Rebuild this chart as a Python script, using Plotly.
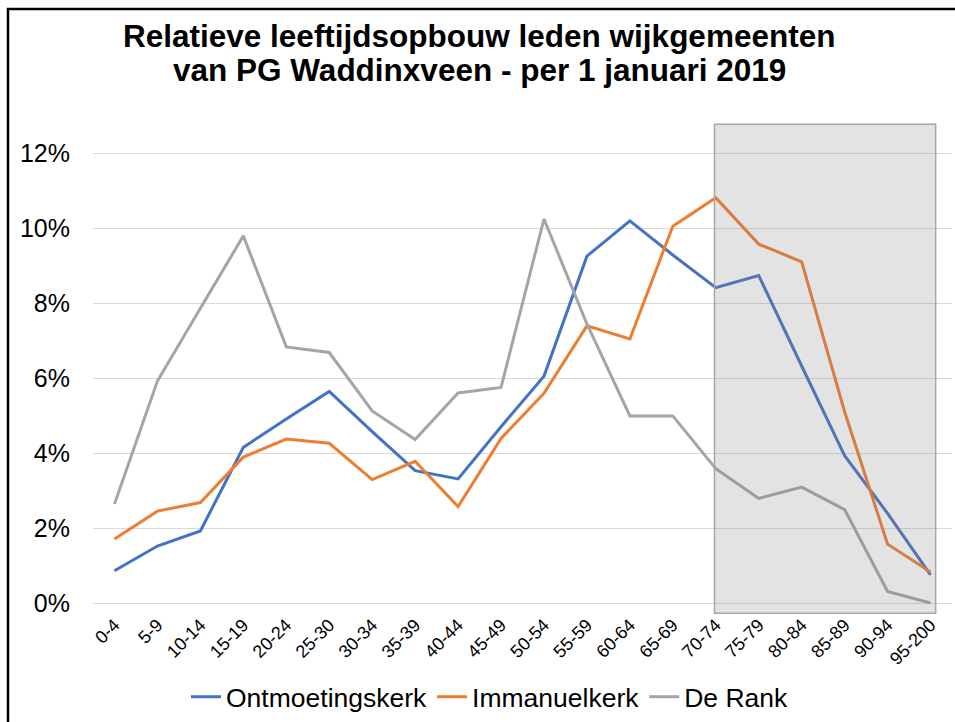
import plotly.graph_objects as go

categories = ["0-4", "5-9", "10-14", "15-19", "20-24", "25-30", "30-34", "35-39", "40-44",
              "45-49", "50-54", "55-59", "60-64", "65-69", "70-74", "75-79", "80-84",
              "85-89", "90-94", "95-200"]

ontmoetingskerk = [0.86, 1.52, 1.92, 4.15, 4.91, 5.64, 4.57, 3.53, 3.31, 4.70,
                   6.05, 9.25, 10.19, 9.28, 8.41, 8.73, 6.32, 3.93, 2.39, 0.75]
immanuelkerk = [1.71, 2.45, 2.68, 3.89, 4.37, 4.26, 3.29, 3.78, 2.57, 4.39,
                5.59, 7.39, 7.04, 10.05, 10.81, 9.57, 9.10, 5.10, 1.57, 0.83]
de_rank = [2.64, 5.92, 7.86, 9.79, 6.83, 6.68, 5.12, 4.36, 5.60, 5.75,
           10.24, 7.44, 4.99, 4.99, 3.58, 2.79, 3.09, 2.49, 0.31, 0.00]

y_ticks = [0, 2, 4, 6, 8, 10, 12]
y_tick_labels = [f"{v}%" for v in y_ticks]

series = [("Ontmoetingskerk", ontmoetingskerk, "#4472C4"),
          ("Immanuelkerk", immanuelkerk, "#ED7D31"),
          ("De Rank", de_rank, "#A5A5A5")]

W, H = 955, 722
L, R, T, B = 93, 3, 123, 108
PW, PH = W - L - R, H - T - B


def px_x(x):
    return (x - L) / PW


def px_y(y):
    return (H - B - y) / PH


fig = go.Figure()
for name, vals, col in series:
    fig.add_trace(go.Scatter(x=categories, y=vals, mode="lines", name=name,
                             line=dict(color=col, width=3)))

font = "Liberation Sans, Arial, Helvetica, sans-serif"

fig.update_layout(
    width=W, height=H,
    margin=dict(l=L, r=R, t=T, b=B, pad=0, autoexpand=False),
    paper_bgcolor="white", plot_bgcolor="white",
    font=dict(family=font, color="black"),
    showlegend=True,
    legend=dict(orientation="h", x=px_x(490), y=px_y(697), xanchor="center", yanchor="middle",
                font=dict(size=26.5, color="black"), bgcolor="rgba(0,0,0,0)"),
    xaxis=dict(type="category", range=[-0.5, 19.5], showgrid=False, showline=False,
               zeroline=False, ticks="", tickangle=-45, automargin=False,
               ticklabelstandoff=-4, tickfont=dict(size=18, color="black")),
    yaxis=dict(range=[-0.293, 12.8], tickmode="array", tickvals=y_ticks, ticktext=y_tick_labels,
               showgrid=True, gridcolor="#D9D9D9", gridwidth=1, zeroline=False, showline=False,
               ticks="", automargin=False, ticklabelstandoff=22,
               tickfont=dict(size=25, color="black")),
    shapes=[
        dict(type="rect", xref="x", yref="y", x0=13.97, x1=19.12, y0=-0.27, y1=12.77,
             fillcolor="rgba(128,128,128,0.22)", line=dict(color="#A6A6A6", width=1.5),
             layer="above"),
        dict(type="rect", xref="paper", yref="paper", x0=px_x(8), x1=px_x(1000),
             y0=px_y(800), y1=px_y(9), line=dict(color="black", width=2.5),
             fillcolor="rgba(0,0,0,0)", layer="above"),
    ],
    annotations=[
        dict(text="<b>Relatieve leeftijdsopbouw leden wijkgemeenten</b>", xref="paper", yref="paper",
             x=px_x(479), y=px_y(36.5), xanchor="center", yanchor="middle", showarrow=False,
             font=dict(size=31.5, color="black", family=font)),
        dict(text="<b>van PG Waddinxveen - per 1 januari 2019</b>", xref="paper", yref="paper",
             x=px_x(479), y=px_y(69.5), xanchor="center", yanchor="middle", showarrow=False,
             font=dict(size=31.5, color="black", family=font)),
    ],
)

fig.write_html("out.html", config={"displayModeBar": False},
               post_script="document.body.style.margin='0';document.body.style.overflow='hidden';")
